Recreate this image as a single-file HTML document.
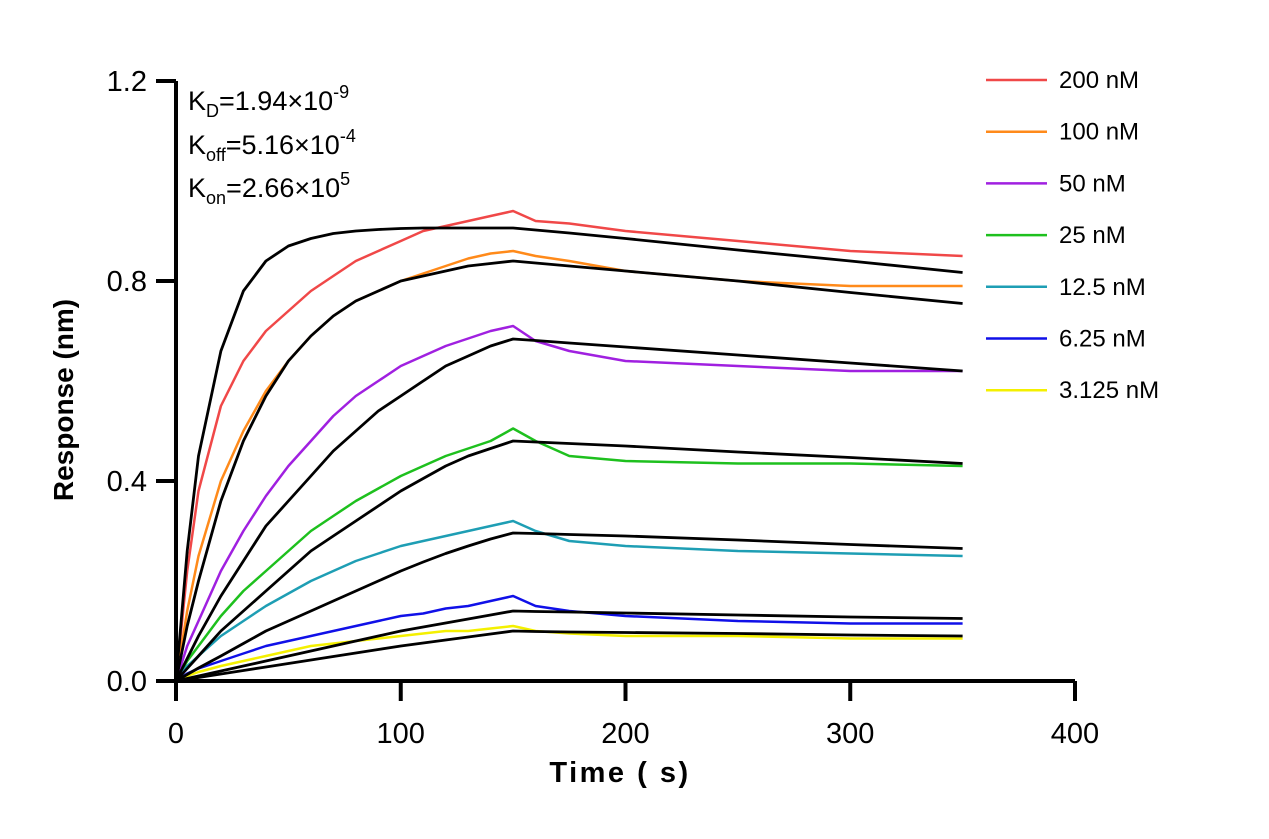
<!DOCTYPE html>
<html><head><meta charset="utf-8"><style>
body{margin:0;background:#fff;width:1269px;height:834px;overflow:hidden}
svg text{font-family:"Liberation Sans",Arial,sans-serif}
</style></head><body>
<svg id="c" width="1269" height="834"></svg>
<script>
const times=[0,5,10,20,30,40,50,60,70,80,90,100,110,120,130,140,150,160,175,200,250,300,350];
const seriesNames=["200 nM","100 nM","50 nM","25 nM","12.5 nM","6.25 nM","3.125 nM"];
const seriesColors=["#f04848","#ff8a1a","#a020e0","#1ec01e","#1e9eb4","#1010e8","#f4f000"];
const measured200=[0,0.22,0.38,0.55,0.64,0.70,0.74,0.78,0.81,0.84,0.86,0.88,0.90,0.91,0.92,0.93,0.94,0.92,0.915,0.90,0.88,0.86,0.85];
const measured100=[0,0.14,0.25,0.40,0.50,0.58,0.64,0.69,0.73,0.76,0.78,0.80,0.815,0.83,0.845,0.855,0.86,0.85,0.84,0.82,0.80,0.79,0.79];
const measured50=[0,0.07,0.12,0.22,0.30,0.37,0.43,0.48,0.53,0.57,0.60,0.63,0.65,0.67,0.685,0.70,0.71,0.68,0.66,0.64,0.63,0.62,0.62];
const measured25=[0,0.04,0.07,0.13,0.18,0.22,0.26,0.30,0.33,0.36,0.385,0.41,0.43,0.45,0.465,0.48,0.505,0.48,0.45,0.44,0.435,0.435,0.43];
const measured12=[0,0.03,0.05,0.09,0.12,0.15,0.175,0.20,0.22,0.24,0.255,0.27,0.28,0.29,0.30,0.31,0.32,0.30,0.28,0.27,0.26,0.255,0.25];
const measured6=[0,0.015,0.025,0.04,0.055,0.07,0.08,0.09,0.10,0.11,0.12,0.13,0.135,0.145,0.15,0.16,0.17,0.15,0.14,0.13,0.12,0.115,0.115];
const measured3=[0,0.01,0.018,0.03,0.04,0.05,0.06,0.07,0.075,0.08,0.085,0.09,0.095,0.10,0.10,0.105,0.11,0.10,0.095,0.09,0.09,0.085,0.085];
const fit200=[0,0.26,0.45,0.66,0.78,0.84,0.87,0.885,0.895,0.90,0.903,0.905,0.906,0.906,0.906,0.906,0.906,0.902,0.896,0.885,0.862,0.84,0.817];
const fit100=[0,0.11,0.20,0.36,0.48,0.57,0.64,0.69,0.73,0.76,0.78,0.80,0.81,0.82,0.83,0.835,0.84,0.836,0.83,0.82,0.80,0.777,0.755];
const fit50=[0,0.045,0.09,0.17,0.24,0.31,0.36,0.41,0.46,0.50,0.54,0.57,0.60,0.63,0.65,0.67,0.684,0.681,0.676,0.668,0.652,0.636,0.62];
const fit25=[0,0.025,0.05,0.10,0.14,0.18,0.22,0.26,0.29,0.32,0.35,0.38,0.405,0.43,0.45,0.465,0.48,0.478,0.475,0.47,0.458,0.447,0.435];
const fit12=[0,0.013,0.026,0.05,0.075,0.10,0.12,0.14,0.16,0.18,0.20,0.22,0.238,0.255,0.27,0.284,0.296,0.295,0.293,0.29,0.282,0.273,0.265];
const fit6=[0,0.005,0.01,0.02,0.03,0.04,0.05,0.06,0.07,0.08,0.09,0.10,0.108,0.116,0.124,0.132,0.14,0.139,0.138,0.136,0.132,0.128,0.125];
const fit3=[0,0.004,0.007,0.014,0.021,0.028,0.035,0.042,0.049,0.056,0.063,0.07,0.076,0.082,0.088,0.094,0.10,0.099,0.098,0.097,0.095,0.092,0.09];
const measuredSeries=[measured200,measured100,measured50,measured25,measured12,measured6,measured3];
const fitSeries=[fit200,fit100,fit50,fit25,fit12,fit6,fit3];
const xTicks=[0,100,200,300,400];
const yTicks=[0.0,0.4,0.8,1.2];

const NS="http://www.w3.org/2000/svg";
const svg=document.getElementById('c');
const X=t=>176+t*(1075-176)/400;
const Y=v=>681-v*500;
function mk(tag,attrs,parent){const e=document.createElementNS(NS,tag);for(const k in attrs)e.setAttribute(k,attrs[k]);(parent||svg).appendChild(e);return e;}
function path(vals){return times.map((t,i)=>(i?'L':'M')+X(t).toFixed(1)+','+Y(vals[i]).toFixed(1)).join(' ');}

measuredSeries.forEach((s,i)=>{
  const p=mk('path',{d:path(s),fill:'none',stroke:seriesColors[i],'stroke-width':2.5,'stroke-linejoin':'round'});
  
  
});
fitSeries.forEach((s,i)=>{
  const p=mk('path',{d:path(s),fill:'none',stroke:'#000','stroke-width':2.8,'stroke-linejoin':'round'});
  
  
});

const ax=mk('path',{d:`M${X(0)},${Y(1.2)} L${X(0)},${Y(0)} L${X(400)},${Y(0)}`,fill:'none',stroke:'#000','stroke-width':4});


xTicks.forEach(t=>{
  const l=mk('line',{x1:X(t),x2:X(t),y1:Y(0),y2:Y(0)+20,stroke:'#000','stroke-width':4});
  
  
  const tx=mk('text',{x:X(t),y:743,'text-anchor':'middle','font-size':29});
  tx.textContent=t;
  
  
});
yTicks.forEach(v=>{
  const l=mk('line',{x1:X(0)-20,x2:X(0),y1:Y(v),y2:Y(v),stroke:'#000','stroke-width':4});
  
  
  const tx=mk('text',{x:147,y:Y(v)+10,'text-anchor':'end','font-size':29});
  tx.textContent=v.toFixed(1);
  
  
});
seriesNames.forEach((n,i)=>{
  const y=80+i*51.7;
  const l=mk('line',{x1:986,x2:1047,y1:y,y2:y,stroke:seriesColors[i],'stroke-width':2.5});
  
  
  const tx=mk('text',{x:1059,y:y+8,'font-size':24});
  tx.textContent=n;
  
  
});
</script>
<svg width="1269" height="834" style="position:absolute;left:0;top:0">
<text x="73" y="400" transform="rotate(-90 73 400)" text-anchor="middle" font-size="28" font-weight="bold" font-family="Liberation Sans,sans-serif">Response (nm)</text>
<text x="620" y="782" text-anchor="middle" font-size="29" font-weight="bold" letter-spacing="2.5" font-family="Liberation Sans,sans-serif">Time ( s)</text>
<g font-size="27" font-family="Liberation Sans,sans-serif">
<text x="188" y="110">K<tspan font-size="18" dy="7">D</tspan><tspan dy="-7">=1.94×10</tspan><tspan font-size="18" dy="-12">-9</tspan></text>
<text x="188" y="154">K<tspan font-size="18" dy="7">off</tspan><tspan dy="-7">=5.16×10</tspan><tspan font-size="18" dy="-12">-4</tspan></text>
<text x="188" y="197">K<tspan font-size="18" dy="7">on</tspan><tspan dy="-7">=2.66×10</tspan><tspan font-size="18" dy="-12">5</tspan></text>
</g>
</svg>
</body></html>
